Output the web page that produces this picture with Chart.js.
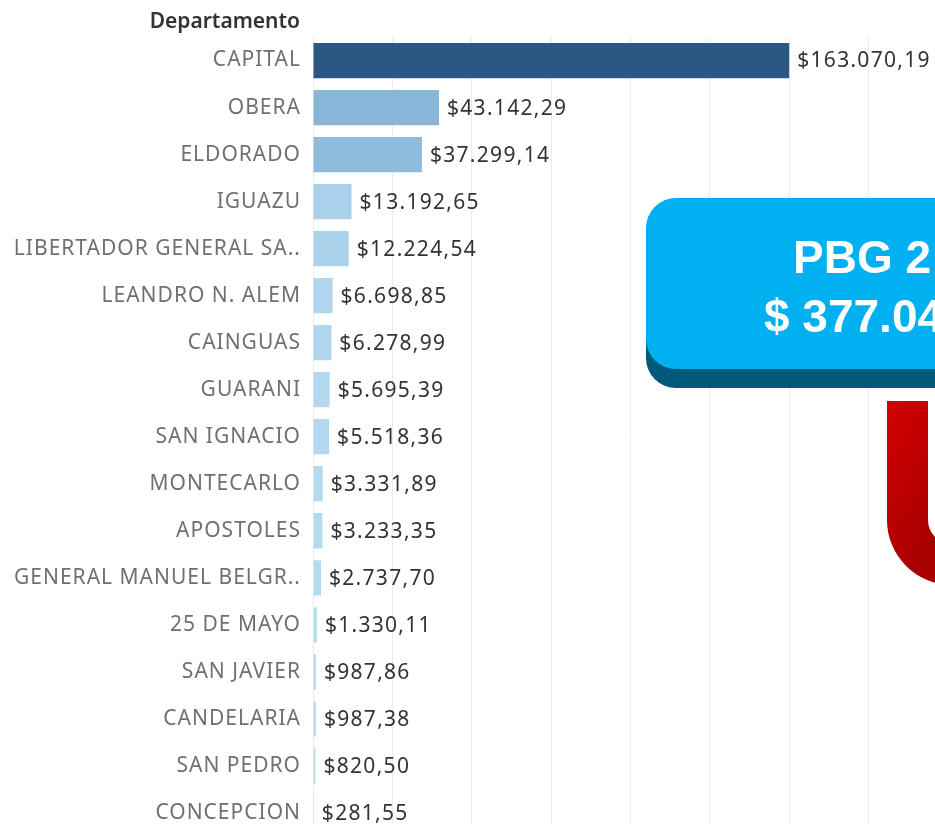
<!DOCTYPE html>
<html>
<head>
<meta charset="utf-8">
<script src="https://cdn.jsdelivr.net/npm/chart.js@4/dist/chart.umd.min.js"></script>
<style>
  html, body { margin: 0; padding: 0; background: #fff; overflow: hidden; }
  #page { position: relative; width: 935px; height: 824px; overflow: hidden; }
  #wrap { position: absolute; left: 0; top: 0; width: 935px; height: 853px; }
  #header {
    position: absolute; left: 0; top: 6px; width: 300px; text-align: right;
    font: 600 21px "Noto Sans", sans-serif; color: #333;
  }
  #overlay { position: absolute; left: 0; top: 0; pointer-events: none; }
</style>
</head>
<body>
<div id="page">
  <div id="wrap"><canvas id="chart"></canvas></div>
  <div id="header">Departamento</div>
  <svg id="overlay" width="935" height="824">
    <defs>
      <linearGradient id="redGrad" x1="0" y1="0" x2="1" y2="1">
        <stop offset="0" stop-color="#d40000"/>
        <stop offset="0.6" stop-color="#a60000"/>
        <stop offset="1" stop-color="#b00000"/>
      </linearGradient>
    </defs>
    <path d="M887,401 L928,401 L928,520 A24,24 0 0 0 952,544 L1000,544 L1000,585 L952,585 A65,65 0 0 1 887,520 Z" fill="url(#redGrad)"/>
    <rect x="646" y="215" width="420" height="173" rx="30" fill="#00587a"/>
    <rect x="646" y="198" width="420" height="171" rx="30" fill="#00b0f0"/>
    <text x="793" y="273" font-family="Liberation Sans, Arial, sans-serif" font-weight="bold" font-size="46" fill="#fff">PBG 2</text>
    <text x="764" y="332" font-family="Liberation Sans, Arial, sans-serif" font-weight="bold" font-size="46" fill="#fff">$ 377.04</text>
  </svg>
</div>
<script>
const departamentos = ['CAPITAL', 'OBERA', 'ELDORADO', 'IGUAZU', 'LIBERTADOR GENERAL SA..', 'LEANDRO N. ALEM',
  'CAINGUAS', 'GUARANI', 'SAN IGNACIO', 'MONTECARLO', 'APOSTOLES', 'GENERAL MANUEL BELGR..', '25 DE MAYO',
  'SAN JAVIER', 'CANDELARIA', 'SAN PEDRO', 'CONCEPCION'];
const pbg = [163070.19, 43142.29, 37299.14, 13192.65, 12224.54, 6698.85, 6278.99, 5695.39, 5518.36,
  3331.89, 3233.35, 2737.70, 1330.11, 987.86, 987.38, 820.50, 281.55];

// tableau blue ramp, [position, r, g, b]
const ramp = [[0, 184, 221, 242], [0.26, 137, 183, 218], [1, 42, 87, 131]];
const maxVal = Math.max(...pbg);
const xMax = 213000;
const gridStep = 27180; // no tick labels shown, only the grid

function barColor(v) {
  const t = v / maxVal;
  let k = 0;
  while (k < ramp.length - 2 && t > ramp[k + 1][0]) k++;
  const a = ramp[k], b = ramp[k + 1];
  const f = (t - a[0]) / (b[0] - a[0]);
  const c = [1, 2, 3].map(i => Math.round(a[i] + (b[i] - a[i]) * f));
  return `rgb(${c[0]},${c[1]},${c[2]})`;
}

function fmt(v) {
  const [ent, dec] = v.toFixed(2).split('.');
  return '$' + ent.replace(/\B(?=(\d{3})+(?!\d))/g, '.') + ',' + dec;
}

const valueLabels = {
  id: 'valueLabels',
  beforeDraw(chart) {
    chart.ctx.letterSpacing = '1px'; // tableau labels are spaced out a bit
  },
  afterDatasetsDraw(chart) {
    const { ctx } = chart;
    const meta = chart.getDatasetMeta(0);
    ctx.save();
    ctx.letterSpacing = '1.3px';
    ctx.font = '21px "Noto Sans", sans-serif';
    ctx.fillStyle = '#333';
    ctx.textAlign = 'left';
    ctx.textBaseline = 'middle';
    meta.data.forEach((bar, i) => {
      ctx.fillText(fmt(pbg[i]), bar.x + 8, bar.y + 1);
    });
    ctx.restore();
  },
  afterDraw(chart) {
    chart.ctx.letterSpacing = '0px';
  },
};

new Chart(document.getElementById('chart'), {
  type: 'bar',
  data: {
    labels: departamentos,
    datasets: [{
      data: pbg,
      backgroundColor: pbg.map(barColor),
      barPercentage: 0.75,
      categoryPercentage: 1,
    }],
  },
  options: {
    indexAxis: 'y',
    responsive: true,
    maintainAspectRatio: false,
    animation: false,
    layout: { padding: { top: 37, right: 0, bottom: 0, left: 0 } },
    plugins: { legend: { display: false }, tooltip: { enabled: false } },
    scales: {
      x: {
        min: 0,
        max: xMax,
        ticks: { display: false },
        grid: { color: '#ececec', drawTicks: false },
        border: { display: false },
        afterBuildTicks(scale) {
          const ticks = [];
          for (let v = 0; v <= xMax; v += gridStep) ticks.push({ value: v });
          scale.ticks = ticks;
        },
        afterFit(scale) { scale.height = 0; },
      },
      y: {
        ticks: { color: '#707070', font: { family: 'Noto Sans', size: 21 }, padding: 4 },
        grid: { display: false },
        border: { display: false },
        afterFit(scale) { scale.width = 313; },
      },
    },
  },
  plugins: [valueLabels],
});
</script>
</body>
</html>
